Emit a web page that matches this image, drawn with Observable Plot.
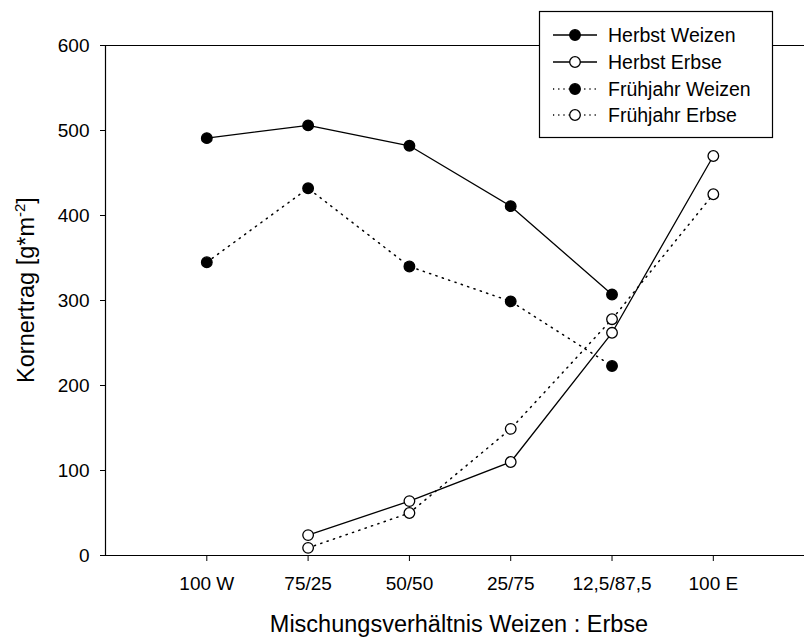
<!DOCTYPE html>
<html>
<head>
<meta charset="utf-8">
<script src="https://cdn.jsdelivr.net/npm/d3@7"></script>
<script src="https://cdn.jsdelivr.net/npm/@observablehq/plot@0.6"></script>
<style>
  html, body { margin: 0; padding: 0; background: #fff; }
  #chart { width: 804px; height: 639px; overflow: hidden; }
</style>
</head>
<body>
<div id="chart"></div>
<script>
const categories = ["100 W", "75/25", "50/50", "25/75", "12,5/87,5", "100 E"];
const seriesNames = ["Herbst Weizen", "Herbst Erbse", "Frühjahr Weizen", "Frühjahr Erbse"];
const herbstWeizen    = [491, 506, 482, 411, 307, null];
const herbstErbse     = [null, 24, 64, 110, 262, 470];
const fruehjahrWeizen = [345, 432, 340, 299, 223, null];
const fruehjahrErbse  = [null, 9, 50, 149, 278, 425];
const yTicks = [0, 100, 200, 300, 400, 500, 600];
const xLabel = "Mischungsverhältnis Weizen : Erbse";
const yLabelMain = "Kornertrag [g*m";
const yLabelSup = "-2";
const yLabelEnd = "]";

const seriesValues = [herbstWeizen, herbstErbse, fruehjahrWeizen, fruehjahrErbse];
const filled = {"Herbst Weizen": true, "Herbst Erbse": false, "Frühjahr Weizen": true, "Frühjahr Erbse": false};
const dotted = {"Herbst Weizen": false, "Herbst Erbse": false, "Frühjahr Weizen": true, "Frühjahr Erbse": true};

const rows = [];
seriesNames.forEach((s, k) => {
  seriesValues[k].forEach((v, i) => {
    if (v != null) rows.push({series: s, i, value: v});
  });
});

const font = "'Liberation Sans', Arial, Helvetica, sans-serif";
const marks = [
  Plot.ruleY([600], {stroke: "#000", strokeWidth: 1.2}),
  Plot.ruleY([0], {stroke: "#000", strokeWidth: 1.2}),
  Plot.ruleX([-1], {y1: 0, y2: 600, stroke: "#000", strokeWidth: 1.2}),
  Plot.axisX({ticks: d3.range(categories.length), tickFormat: i => categories[i], tickSize: 6, tickPadding: 15, label: null, fontSize: 19}),
  Plot.axisY({ticks: yTicks, tickSize: 5, tickPadding: 11, label: null, fontSize: 19})
];
seriesNames.forEach(s => {
  marks.push(Plot.line(rows.filter(d => d.series === s), {
    x: "i", y: "value", stroke: "#000", strokeWidth: dotted[s] ? 1.5 : 1.3,
    strokeDasharray: dotted[s] ? "1.2,5.5" : null
  }));
});
seriesNames.forEach(s => {
  marks.push(Plot.dot(rows.filter(d => d.series === s), {
    x: "i", y: "value", r: 5.3, stroke: "#000", strokeWidth: 1.3,
    fill: filled[s] ? "#000" : "#fff"
  }));
});

const svg = Plot.plot({
  width: 804,
  height: 639,
  marginLeft: 105,
  marginRight: 0,
  marginTop: 45,
  marginBottom: 84,
  x: {type: "linear", domain: [-1, 5.9]},
  y: {domain: [0, 600]},
  style: {fontFamily: font, fontSize: "19px", color: "#000", background: "#fff", overflow: "visible"},
  marks
});
document.getElementById("chart").appendChild(svg);

const root = d3.select(svg);
// axis titles
root.append("text")
  .attr("x", 459).attr("y", 632)
  .attr("text-anchor", "middle")
  .attr("font-family", font).attr("font-size", 23.5)
  .attr("fill", "#000")
  .text(xLabel);

const yl = root.append("text")
  .attr("transform", "translate(34,290) rotate(-90)")
  .attr("text-anchor", "middle")
  .attr("font-family", font).attr("font-size", 23.5)
  .attr("fill", "#000");
yl.append("tspan").text(yLabelMain);
yl.append("tspan").attr("font-size", 15).attr("dy", -9).text(yLabelSup);
yl.append("tspan").attr("dy", 9).text(yLabelEnd);

// legend
const lg = root.append("g");
lg.append("rect").attr("x", 539.5).attr("y", 11.5).attr("width", 233).attr("height", 126)
  .attr("fill", "#fff").attr("stroke", "#000").attr("stroke-width", 1.2);
const rowY = [35, 62, 89, 115];
seriesNames.forEach((s, k) => {
  const g = lg.append("g").attr("transform", `translate(0,${rowY[k]})`);
  g.append("line").attr("x1", 553).attr("x2", 597).attr("y1", 0).attr("y2", 0)
    .attr("stroke", "#000").attr("stroke-width", dotted[s] ? 1.5 : 1.3)
    .attr("stroke-dasharray", dotted[s] ? "1.2,4" : null);
  g.append("circle").attr("cx", 575).attr("cy", 0).attr("r", 5.3)
    .attr("fill", filled[s] ? "#000" : "#fff").attr("stroke", "#000").attr("stroke-width", 1.3);
  g.append("text").attr("x", 608).attr("y", 0).attr("dy", "0.35em")
    .attr("text-anchor", "start")
    .attr("font-family", font).attr("font-size", 19.5).attr("fill", "#000").text(s);
});
</script>
</body>
</html>
